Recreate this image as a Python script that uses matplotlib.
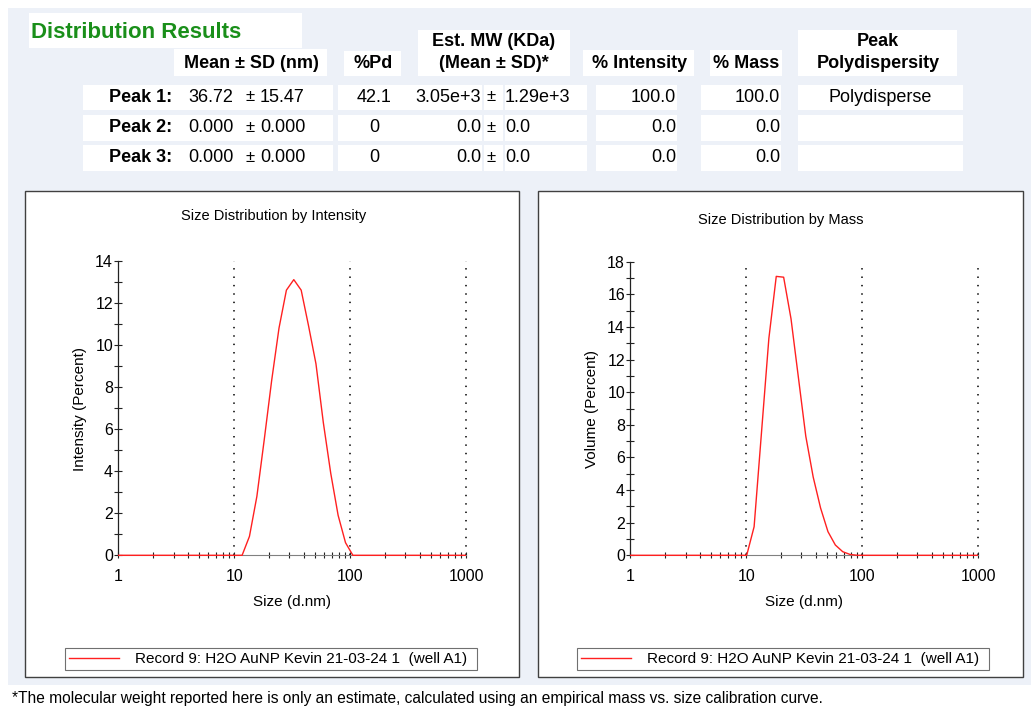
import matplotlib
matplotlib.use("Agg")
import matplotlib.pyplot as plt
from matplotlib.patches import Rectangle
from matplotlib.ticker import LogLocator, NullFormatter, MultipleLocator

plt.rcParams['font.family'] = ['Liberation Sans', 'DejaVu Sans']

W, H = 1031, 712

# size classes (d.nm)
sizes = [0.9649, 1.117, 1.294, 1.499, 1.736, 2.010, 2.328, 2.696, 3.122, 3.615,
         4.187, 4.849, 5.615, 6.503, 7.531, 8.721, 10.10, 11.70, 13.54, 15.69,
         18.17, 21.04, 24.36, 28.21, 32.67, 37.84, 43.82, 50.75, 58.77, 68.06,
         78.82, 91.28, 105.7, 122.4, 141.8, 164.2, 190.1, 220.2, 255.0, 295.3,
         342.0, 396.1, 458.7, 531.2, 615.1, 712.4, 825.0, 955.4, 1106]

intensity = [0, 0, 0, 0, 0, 0, 0, 0, 0, 0,
             0, 0, 0, 0, 0, 0, 0, 0, 0.9, 2.8,
             5.5, 8.3, 10.8, 12.6, 13.1, 12.6, 10.9, 9.1, 6.3, 3.9,
             1.9, 0.6, 0, 0, 0, 0, 0, 0, 0, 0,
             0, 0, 0, 0, 0, 0, 0, 0, 0]

volume = [0, 0, 0, 0, 0, 0, 0, 0, 0, 0,
          0, 0, 0, 0, 0, 0, 0, 1.75, 7.5, 13.3,
          17.1, 17.05, 14.5, 10.9, 7.3, 4.8, 2.9, 1.45, 0.63, 0.22,
          0.05, 0, 0, 0, 0, 0, 0, 0, 0, 0,
          0, 0, 0, 0, 0, 0, 0, 0, 0]

record = "Record 9: H2O AuNP Kevin 21-03-24 1  (well A1)"

# results table
peak_labels = ["Peak 1:", "Peak 2:", "Peak 3:"]
mean_nm = ["36.72", "0.000", "0.000"]
sd_nm = ["15.47", "0.000", "0.000"]
pd_pct = ["42.1", "0", "0"]
mw_mean = ["3.05e+3", "0.0", "0.0"]
mw_sd = ["1.29e+3", "0.0", "0.0"]
pct_int = ["100.0", "0.0", "0.0"]
pct_mass = ["100.0", "0.0", "0.0"]
peak_pd = ["Polydisperse", "", ""]

BLUE = '#edf1f8'
GREEN = '#1a8f1a'
TFS = 13

fig = plt.figure(figsize=(W / 100, H / 100), dpi=100)
bg = fig.add_axes([0, 0, 1, 1])
bg.set_xlim(0, W)
bg.set_ylim(H, 0)
bg.axis('off')


def box(x0, y0, x1, y1, fc='white', ec='none', lw=0):
    bg.add_patch(Rectangle((x0, y0), x1 - x0, y1 - y0, facecolor=fc, edgecolor=ec, lw=lw))


box(8, 8, W, 685, fc=BLUE)

# table header
box(29, 13, 302, 48)
bg.text(31, 32, "Distribution Results", color=GREEN, fontsize=16, fontweight='bold', va='center')
box(174, 49, 327, 76)
bg.text(251, 63, "Mean ± SD (nm)", fontsize=TFS, fontweight='bold', ha='center', va='center')
box(344, 51, 401, 76)
bg.text(373, 63, "%Pd", fontsize=TFS, fontweight='bold', ha='center', va='center')
box(418, 30, 570, 76)
bg.text(494, 42, "Est. MW (KDa)", fontsize=TFS, fontweight='bold', ha='center', va='center')
bg.text(494, 63, "(Mean ± SD)*", fontsize=TFS, fontweight='bold', ha='center', va='center')
box(583, 50, 694, 76)
bg.text(640, 63, "% Intensity", fontsize=TFS, fontweight='bold', ha='center', va='center')
box(710, 50, 782, 76)
bg.text(746, 63, "% Mass", fontsize=TFS, fontweight='bold', ha='center', va='center')
box(798, 30, 957, 76)
bg.text(878, 41, "Peak", fontsize=TFS, fontweight='bold', ha='center', va='center')
bg.text(878, 63, "Polydispersity", fontsize=TFS, fontweight='bold', ha='center', va='center')

rows = [(85, 110), (115, 141), (145, 171)]
for i, (y0, y1) in enumerate(rows):
    yc = (y0 + y1) / 2
    box(83, y0, 333, y1)
    box(338, y0, 482, y1)
    box(484, y0, 503, y1)
    box(505, y0, 587, y1)
    box(596, y0, 677, y1)
    box(701, y0, 781, y1)
    box(798, y0, 963, y1)
    bg.text(172, yc, peak_labels[i], fontsize=TFS, fontweight='bold', ha='right', va='center')
    bg.text(188, yc, mean_nm[i], fontsize=TFS, ha='left', va='center')
    bg.text(250, yc - 1, "±", fontsize=TFS - 1, ha='center', va='center')
    bg.text(260, yc, sd_nm[i], fontsize=TFS, ha='left', va='center')
    bg.text(374, yc, pd_pct[i], fontsize=TFS, ha='center', va='center')
    bg.text(481, yc, mw_mean[i], fontsize=TFS, ha='right', va='center')
    bg.text(491, yc - 1, "±", fontsize=TFS - 1, ha='center', va='center')
    bg.text(505, yc, mw_sd[i], fontsize=TFS, ha='left', va='center')
    bg.text(676, yc, pct_int[i], fontsize=TFS, ha='right', va='center')
    bg.text(780, yc, pct_mass[i], fontsize=TFS, ha='right', va='center')
    bg.text(880, yc, peak_pd[i], fontsize=TFS, ha='center', va='center')

# panel frames
box(25, 191, 519, 677, ec='#404040', lw=1)
box(538, 191, 1023, 677, ec='#404040', lw=1)

bg.text(12, 698, "*The molecular weight reported here is only an estimate, calculated using an "
        "empirical mass vs. size calibration curve.", fontsize=11.2, va='center')


def panel(x0, x1, ytop, yzero, ymax, values, title, title_x, title_pad, ylabel, leg_x0, leg_x1):
    pad_px = 2.0
    ppu = (yzero - ytop) / ymax
    ax = fig.add_axes([x0 / W, 1 - (yzero + pad_px) / H, (x1 - x0) / W, (yzero + pad_px - ytop) / H])
    ax.set_xscale('log')
    ax.set_xlim(1, 1000)
    ax.set_ylim(-pad_px / ppu, ymax)
    ax.patch.set_alpha(0)
    for s in ['top', 'right']:
        ax.spines[s].set_visible(False)
    ax.spines['bottom'].set_position(('data', 0))
    ax.spines['bottom'].set_color('#808080')
    ax.spines['left'].set_bounds(0, ymax)
    ax.spines['left'].set_color('#222222')
    ax.spines['left'].set_linewidth(0.9)

    ax.vlines([10, 100, 1000], 0, ymax, colors='#222222', linestyles=(0, (0.8, 3.85)), lw=1.3,
              clip_on=False)
    line, = ax.plot(sizes, values, color='#ff2020', lw=1.0, zorder=3, label=record)

    ax.set_xticks([1, 10, 100, 1000], ['1', '10', '100', '1000'])
    ax.xaxis.set_minor_locator(LogLocator(base=10, subs=[2, 3, 4, 5, 6, 7, 8, 9]))
    ax.xaxis.set_minor_formatter(NullFormatter())
    ax.yaxis.set_major_locator(MultipleLocator(2))
    ax.yaxis.set_minor_locator(MultipleLocator(1))
    ax.tick_params(axis='x', which='both', direction='inout', length=4, width=0.8, color='#222222',
                   labelsize=11.5, pad=8)
    ax.tick_params(axis='y', which='both', direction='inout', length=5.5, width=0.8, color='#222222',
                   labelsize=11.5, pad=1)

    ax.set_xlabel("Size (d.nm)", fontsize=11)
    ax.xaxis.label.set_va('center')
    ax.xaxis.set_label_coords(0.5, -0.15)
    ax.set_ylabel(ylabel, fontsize=11)
    ax.yaxis.label.set_va('center')
    ax.yaxis.set_label_coords(-0.111, 0.5)
    ax.set_title(title, fontsize=10.5, x=title_x, pad=title_pad)

    leg = ax.legend(handles=[line], loc='center', mode='expand',
                    bbox_to_anchor=(leg_x0 / W, 1 - 670 / H, (leg_x1 - leg_x0) / W, 22 / H),
                    bbox_transform=fig.transFigure, borderaxespad=0, fancybox=False,
                    edgecolor='#707070', framealpha=1, fontsize=11, handlelength=3.3,
                    handletextpad=1.0, borderpad=0.25)
    leg.get_frame().set_linewidth(0.8)
    return ax


panel(118.3, 466.0, 260.7, 555.3, 14, intensity, "Size Distribution by Intensity",
      0.446, 29, "Intensity (Percent)", 65, 477)
panel(630.3, 978.0, 261.7, 555.3, 18, volume, "Size Distribution by Mass",
      0.433, 27, "Volume (Percent)", 577, 989)

fig.savefig("out.png", dpi=100)
